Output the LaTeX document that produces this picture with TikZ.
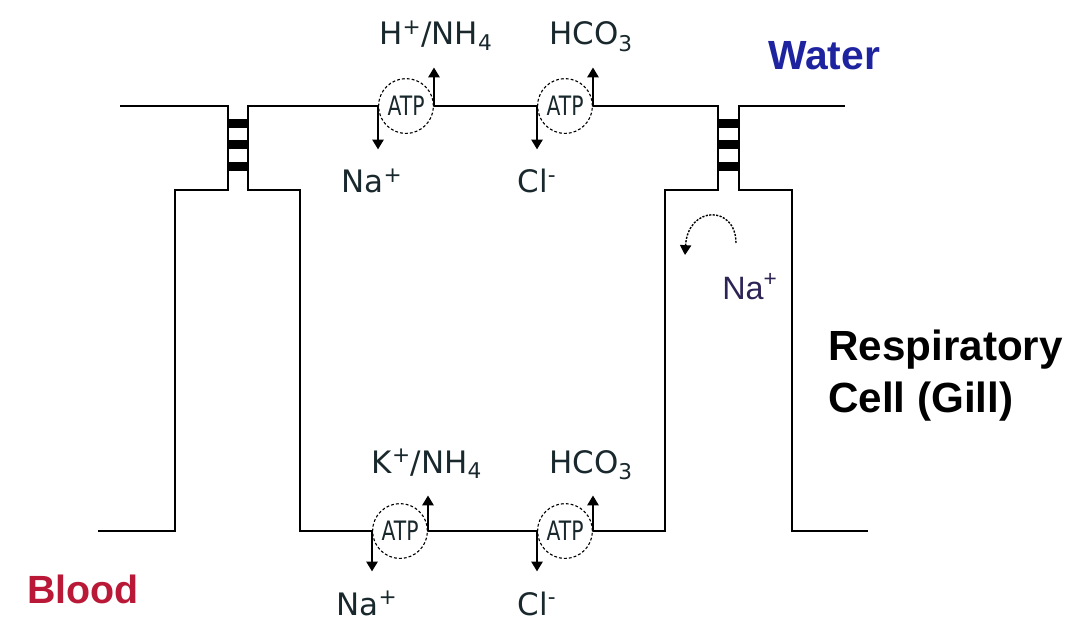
\documentclass[tikz,border=0pt]{standalone}
\usepackage{fontspec}
\setmainfont{DejaVu Sans}
\newfontfamily\arialfont{Liberation Sans}
\usetikzlibrary{arrows.meta,positioning}
\definecolor{ioncol}{RGB}{25,40,45}
\definecolor{watercol}{RGB}{30,35,160}
\definecolor{bloodcol}{RGB}{185,25,55}
\definecolor{nacol}{RGB}{45,35,85}
\begin{document}
\begin{tikzpicture}[x=0.025cm,y=-0.025cm,>={Triangle[width=8pt,length=7pt]},
  wall/.style={line width=1.7pt},
  pump/.style={circle,draw,fill=white,dash pattern=on 2pt off 1.5pt,line width=0.8pt,minimum size=39pt,inner sep=0pt,font=\fontsize{19}{19}\selectfont,text=ioncol},
  ion/.style={font=\fontsize{22}{24}\selectfont,text=ioncol,inner sep=0pt,anchor=base},
  influx/.style={line width=1.4pt,->,shorten >=31pt},
  efflux/.style={line width=1.4pt,->,shorten >=16pt},
  big/.style={font=\arialfont\bfseries\fontsize{29}{37}\selectfont,inner sep=0pt}]
\useasboundingbox (0,0) rectangle (1072,623);
\draw[wall] (120,106) -- (228,106) -- (228,190) -- (175,190) -- (175,531) -- (98,531);
\draw[wall] (248,106) -- (248,190) -- (300,190) -- (300,531) -- (665,531) -- (665,190) -- (718,190) -- (718,106) -- cycle;
\draw[wall] (845,106) -- (739,106) -- (739,190) -- (792,190) -- (792,531) -- (868,531);
\foreach \x/\w in {228/20,718/21}
  \foreach \y in {119,140,162}
    \fill (\x,\y) rectangle ++(\w,9);
\node[pump] (p1) at (406,106) {\scalebox{0.76}[1]{ATP}};
\node[pump] (p2) at (565,106) {\scalebox{0.76}[1]{ATP}};
\node[pump] (p3) at (400,531) {\scalebox{0.76}[1]{ATP}};
\node[pump] (p4) at (565,531) {\scalebox{0.76}[1]{ATP}};
\node[ion] (h1) at (436,45) {H\textsuperscript{+}/NH\textsubscript{4}};
\node[ion] (c1) at (591,45) {HCO\textsubscript{3}};
\node[ion] (na1) at (372,193) {Na\textsuperscript{+}};
\node[ion] (cl1) at (537,193) {Cl\textsuperscript{-}};
\node[ion] (k2) at (427,473) {K\textsuperscript{+}/NH\textsubscript{4}};
\node[ion] (c2) at (591,473) {HCO\textsubscript{3}};
\node[ion] (na2) at (367,615) {Na\textsuperscript{+}};
\node[ion] (cl2) at (537,615) {Cl\textsuperscript{-}};
\draw[influx] (p1.west) -- (p1.west |- na1.base);
\draw[efflux] (p1.east) -- (p1.east |- h1.base);
\draw[influx] (p2.west) -- (p2.west |- cl1.base);
\draw[efflux] (p2.east) -- (p2.east |- c1.base);
\draw[influx] (p3.west) -- (p3.west |- na2.base);
\draw[efflux] (p3.east) -- (p3.east |- k2.base);
\draw[influx] (p4.west) -- (p4.west |- cl2.base);
\draw[efflux] (p4.east) -- (p4.east |- c2.base);
\node[anchor=base west,inner sep=0pt,text=nacol,font=\arialfont\fontsize{23}{24}\selectfont] (na3) at (722,299) {Na\textsuperscript{+}};
\coordinate (back) at (736,243);
\coordinate (leak) at (685,255);
\draw[->,line width=1pt,dash pattern=on 1.5pt off 1pt] (back) .. controls (736,205) and (688,205) .. (leak);
\node[big,text=watercol,anchor=base] (water) at (824,70) {Water};
\node[big,anchor=north west,align=left,font=\arialfont\bfseries\fontsize{30}{37}\selectfont] (cell) at (828,330) {Respiratory\\Cell (Gill)};
\node[big,text=bloodcol,anchor=base west,font=\arialfont\bfseries\fontsize{28}{34}\selectfont] (blood) at (27,603) {Blood};
\end{tikzpicture}
\end{document}
